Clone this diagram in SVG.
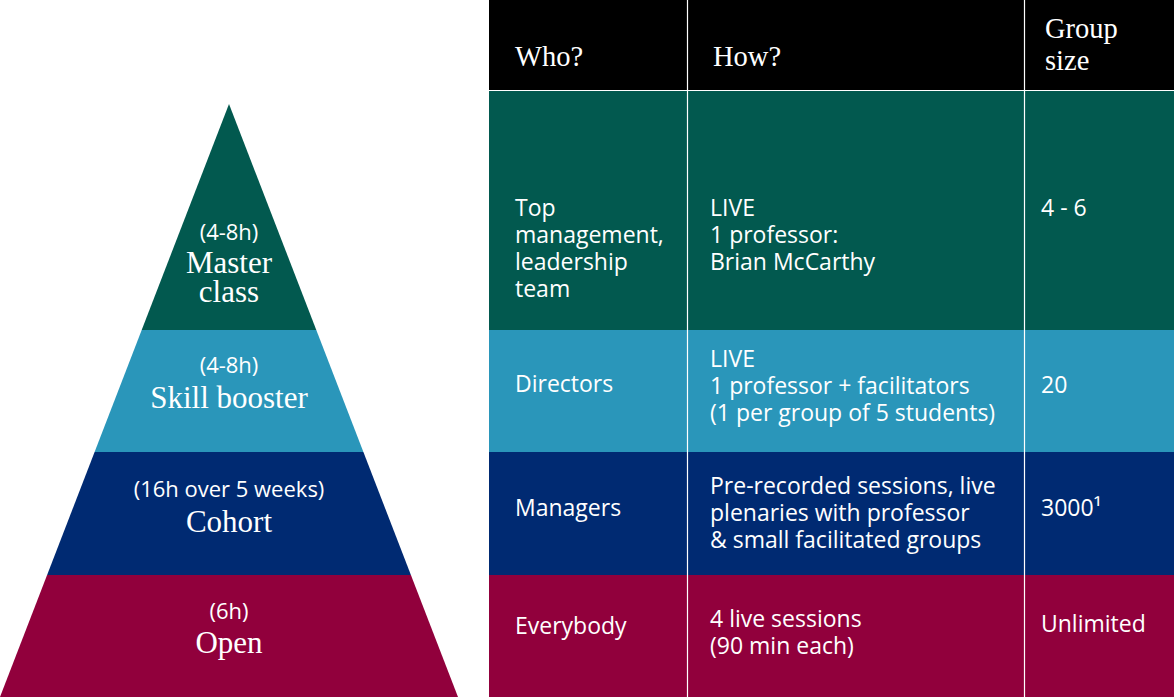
<svg xmlns="http://www.w3.org/2000/svg" width="1174" height="697" viewBox="0 0 1174 697">
<style>
.lvl{font-family:"Liberation Serif",serif;font-size:31px;fill:#fff;text-anchor:middle}
.dur{font-family:"Open Sans","Noto Sans",sans-serif;font-size:22px;fill:#fff;text-anchor:middle}
.hd{font-family:"Liberation Serif",serif;font-size:28.5px;fill:#fff}
.td{font-family:"Open Sans","Noto Sans",sans-serif;font-size:23px;font-weight:500;fill:#fff}
.sep{stroke:#fff;stroke-width:1.2}
</style>
<rect width="1174" height="697" fill="#fff"/>
<g id="pyramid">
<g id="level-master">
<polygon points="229,104 316.3,330 141.7,330" fill="#02594F"/>
<text class="dur" x="229" y="240">(4-8h)</text>
<text class="lvl" x="229" y="273">Master</text>
<text class="lvl" x="229" y="302">class</text>
</g>
<g id="level-skill">
<polygon points="141.7,330 316.3,330 363.4,452 94.6,452" fill="#2A96BA"/>
<text class="dur" x="229" y="373">(4-8h)</text>
<text class="lvl" x="229" y="408">Skill booster</text>
</g>
<g id="level-cohort">
<polygon points="94.6,452 363.4,452 410.9,575 47.1,575" fill="#002A72"/>
<text class="dur" x="229" y="497">(16h over 5 weeks)</text>
<text class="lvl" x="229" y="532">Cohort</text>
</g>
<g id="level-open">
<polygon points="47.1,575 410.9,575 458,697 0,697" fill="#91003C"/>
<text class="dur" x="229" y="619">(6h)</text>
<text class="lvl" x="229" y="653">Open</text>
</g>
</g>
<g id="table">
<g id="header">
<rect x="489" y="0" width="685" height="91" fill="#000"/>
<text class="hd" x="515" y="66">Who?</text>
<text class="hd" x="713" y="66">How?</text>
<text class="hd" x="1045" y="38">Group</text>
<text class="hd" x="1045" y="70">size</text>
</g>
<g id="row-master">
<rect x="489" y="91" width="685" height="239" fill="#02594F"/>
<text class="td" x="515" y="216">Top</text>
<text class="td" x="515" y="243">management,</text>
<text class="td" x="515" y="270">leadership</text>
<text class="td" x="515" y="297">team</text>
<text class="td" x="710" y="216">LIVE</text>
<text class="td" x="710" y="243">1 professor:</text>
<text class="td" x="710" y="270">Brian McCarthy</text>
<text class="td" x="1041" y="216">4 - 6</text>
</g>
<g id="row-skill">
<rect x="489" y="330" width="685" height="122" fill="#2A96BA"/>
<text class="td" x="515" y="392">Directors</text>
<text class="td" x="710" y="367">LIVE</text>
<text class="td" x="710" y="394">1 professor + facilitators</text>
<text class="td" x="710" y="421">(1 per group of 5 students)</text>
<text class="td" x="1041" y="393">20</text>
</g>
<g id="row-cohort">
<rect x="489" y="452" width="685" height="123" fill="#002A72"/>
<text class="td" x="515" y="516">Managers</text>
<text class="td" x="710" y="494">Pre-recorded sessions, live</text>
<text class="td" x="710" y="521">plenaries with professor</text>
<text class="td" x="710" y="548">&amp; small facilitated groups</text>
<text class="td" x="1041" y="516">3000¹</text>
</g>
<g id="row-open">
<rect x="489" y="575" width="685" height="122" fill="#91003C"/>
<text class="td" x="515" y="634">Everybody</text>
<text class="td" x="710" y="627">4 live sessions</text>
<text class="td" x="710" y="654">(90 min each)</text>
<text class="td" x="1041" y="632">Unlimited</text>
</g>
<g id="grid">
<line class="sep" x1="489" y1="90.5" x2="1174" y2="90.5"/>
<line class="sep" x1="687.5" y1="0" x2="687.5" y2="697"/>
<line class="sep" x1="1024.5" y1="0" x2="1024.5" y2="697"/>
</g>
</g>
</svg>
